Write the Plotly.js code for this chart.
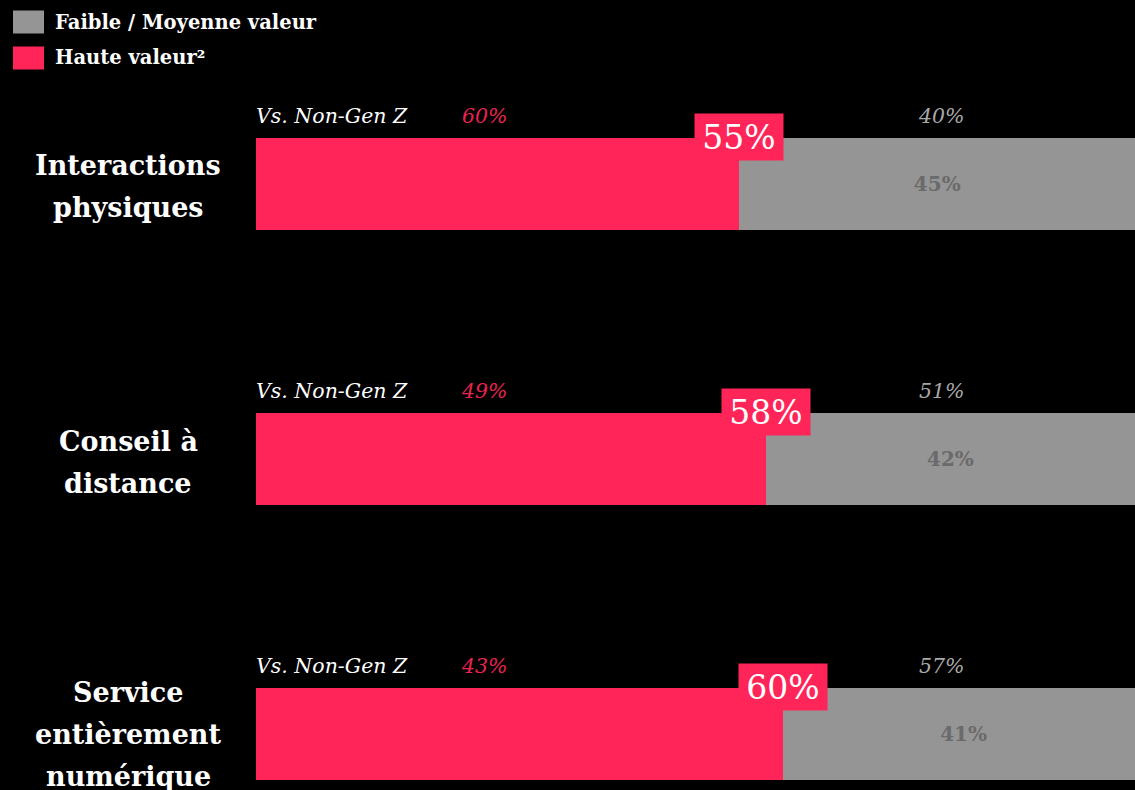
<!DOCTYPE html>
<html>
<head>
<meta charset="utf-8">
<script src="https://cdn.plot.ly/plotly-3.0.1.min.js"></script>
<style>
html,body{margin:0;padding:0;background:#000;}
#chart{width:1135px;height:790px;}
</style>
</head>
<body>
<div id="chart"></div>
<script>
// ---- data ----
const categories = ['Interactions<br>physiques', 'Conseil à<br>distance', 'Service<br>entièrement<br>numérique'];
const highValue = [55, 58, 60];          // Haute valeur (Gen Z)
const lowMidValue = [45, 42, 41];        // Faible / Moyenne valeur (Gen Z)
const nonGenZHigh = [60, 49, 43];        // Vs. Non-Gen Z – haute valeur
const nonGenZLowMid = [40, 51, 57];      // Vs. Non-Gen Z – faible / moyenne valeur
const seriesNames = ['Faible / Moyenne valeur', 'Haute valeur²'];
const compareLabel = 'Vs. Non-Gen Z';

// ---- style ----
const PINK = '#ff2558';
const GREY = '#959595';
const FONT = 'DejaVu Serif';
const W = 1135, H = 790;
const px = x => x / W;
const py = y => 1 - y / H;

const traces = [
  {
    type: 'bar', orientation: 'h', name: seriesNames[1],
    y: categories, x: highValue, width: 0.3345,
    marker: {color: PINK, line: {width: 0}},
    hoverinfo: 'skip', showlegend: false
  },
  {
    type: 'bar', orientation: 'h', name: seriesNames[0],
    y: categories, x: lowMidValue, base: highValue, width: 0.3345,
    marker: {color: GREY, line: {width: 0}},
    text: lowMidValue.map(v => v + '%'), textposition: 'inside',
    insidetextanchor: 'middle', constraintext: 'none',
    textfont: {family: FONT, size: 20, color: '#6a6a6a', weight: 700},
    hoverinfo: 'skip', showlegend: false
  }
];

const annotations = [];
const shapes = [];

// legend
const legendColors = [GREY, PINK];
const legendY = [22, 58];
seriesNames.forEach((n, i) => {
  shapes.push({type: 'rect', xref: 'paper', yref: 'paper',
    x0: px(13), x1: px(44), y0: py(legendY[i] + 11.5), y1: py(legendY[i] - 11.5),
    fillcolor: legendColors[i], line: {width: 0}});
  annotations.push({xref: 'paper', yref: 'paper', x: px(53), y: py(legendY[i]),
    xanchor: 'left', yanchor: 'middle', showarrow: false, text: n,
    font: {family: FONT, size: 19.5, color: '#ffffff', weight: 700}});
});

categories.forEach((c, i) => {
  // category label, centred, one annotation per line
  const lines = c.split('<br>');
  const n = lines.length;
  lines.forEach((ln, k) => {
    annotations.push({xref: 'paper', yref: 'y', x: px(128), y: c,
      xanchor: 'center', yanchor: 'middle', showarrow: false, text: ln,
      yshift: ((n - 1) / 2 - k) * 42 - (n > 2 ? 0 : 3),
      font: {family: FONT, size: 27, color: '#ffffff', weight: 700}});
  });
  // Vs. Non-Gen Z row
  annotations.push({xref: 'paper', yref: 'y', x: px(254), y: c,
    xanchor: 'left', yanchor: 'middle', showarrow: false, text: compareLabel,
    yshift: 68,
    font: {family: FONT, size: 20.5, color: '#ffffff', style: 'italic'}});
  annotations.push({xref: 'x', yref: 'y', x: 26, y: c,
    xanchor: 'center', yanchor: 'middle', showarrow: false, text: nonGenZHigh[i] + '%',
    yshift: 68,
    font: {family: FONT, size: 20.5, color: '#e8234f', style: 'italic'}});
  annotations.push({xref: 'x', yref: 'y', x: 78, y: c,
    xanchor: 'center', yanchor: 'middle', showarrow: false, text: nonGenZLowMid[i] + '%',
    yshift: 68,
    font: {family: FONT, size: 20.5, color: '#a8a8a8', style: 'italic'}});
  // big high value label
  annotations.push({xref: 'x', yref: 'y', x: highValue[i], y: c,
    xanchor: 'center', yanchor: 'middle', showarrow: false, text: highValue[i] + '%',
    yshift: 47, width: 88, height: 46, bgcolor: PINK, borderpad: 0,
    font: {family: FONT, size: 33, color: '#ffffff'}});
});

const layout = {
  width: W, height: H,
  paper_bgcolor: '#000', plot_bgcolor: '#000',
  margin: {l: 0, r: 0, t: 0, b: 0, pad: 0},
  barmode: 'stack',
  showlegend: false,
  xaxis: {domain: [256 / W, 1], range: [0, 100], visible: false, fixedrange: true},
  yaxis: {type: 'category', range: [2.2036, -0.669], visible: false, fixedrange: true},
  annotations: annotations,
  shapes: shapes,
  font: {family: FONT, color: '#fff'}
};

Plotly.newPlot('chart', traces, layout, {displayModeBar: false, staticPlot: true});
</script>
</body>
</html>
